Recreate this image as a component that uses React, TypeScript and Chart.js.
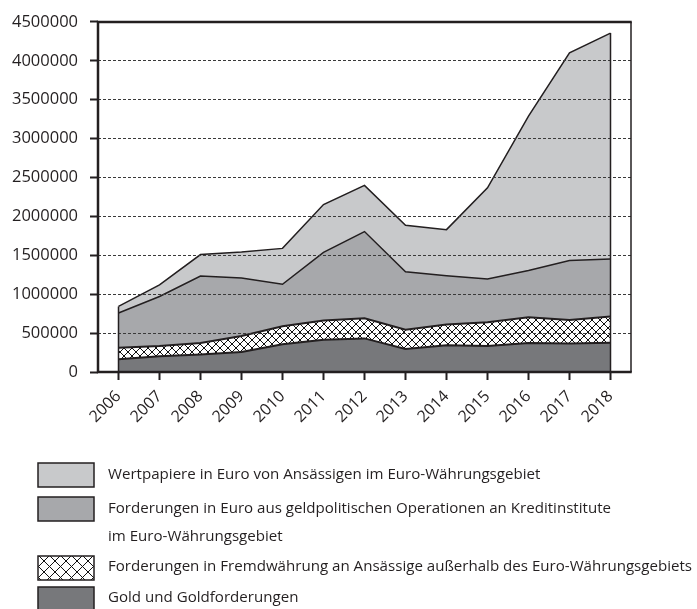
import React, { useEffect, useRef } from "react";
import { Chart, registerables } from "chart.js";

Chart.register(...registerables);

const years = ["2006", "2007", "2008", "2009", "2010", "2011", "2012", "2013", "2014", "2015", "2016", "2017", "2018"];

// Gold und Goldforderungen
const gold = [165000, 203000, 225000, 258000, 356000, 415000, 432000, 296000, 343000, 335000, 373000, 365000, 377000];
// Forderungen in Fremdwährung an Ansässige außerhalb des Euro-Währungsgebiets
const fremdwaehrung = [148000, 132000, 148000, 204000, 233000, 246000, 259000, 246000, 267000, 305000, 331000, 304000, 335000];
// Forderungen in Euro aus geldpolitischen Operationen
const forderungen = [446000, 635000, 860000, 746000, 538000, 877000, 1114000, 746000, 627000, 555000, 601000, 763000, 741000];
// Wertpapiere in Euro
const wertpapiere = [84000, 149000, 276000, 334000, 462000, 614000, 594000, 597000, 593000, 1173000, 1983000, 2670000, 2903000];

const yTicks = [0, 500000, 1000000, 1500000, 2000000, 2500000, 3000000, 3500000, 4000000, 4500000];

const legendLabels = [
  ["Wertpapiere in Euro von Ansässigen im Euro-Währungsgebiet"],
  ["Forderungen in Euro aus geldpolitischen Operationen an Kreditinstitute", "im Euro-Währungsgebiet"],
  ["Forderungen in Fremdwährung an Ansässige außerhalb des Euro-Währungsgebiets"],
  ["Gold und Goldforderungen"],
];

const INK = "#231f20";
const C_LIGHT = "#c8c9cb";
const C_MID = "#a7a8ab";
const C_DARK = "#77787b";
const FONT = "'Open Sans', 'Noto Sans', sans-serif";

function makeHatch(size: number): CanvasPattern | string {
  const c = document.createElement("canvas");
  c.width = size;
  c.height = size;
  const g = c.getContext("2d");
  if (!g) return "#ffffff";
  g.fillStyle = "#ffffff";
  g.fillRect(0, 0, size, size);
  g.strokeStyle = "#111111";
  g.lineWidth = 1;
  g.beginPath();
  g.moveTo(-1, -1);
  g.lineTo(size + 1, size + 1);
  g.moveTo(size + 1, -1);
  g.lineTo(-1, size + 1);
  g.stroke();
  const p = g.createPattern(c, "repeat");
  return p || "#ffffff";
}

export default function App() {
  const ref = useRef<HTMLCanvasElement | null>(null);

  useEffect(() => {
    const canvas = ref.current;
    if (!canvas) return;
    const hatch = makeHatch(8);
    const legendHatch = makeHatch(11);

    const framePlugin = {
      id: "frame",
      afterDraw(chart: any) {
        const { ctx, chartArea } = chart;
        const x = chart.scales.x;
        const y = chart.scales.y;
        ctx.save();
        ctx.strokeStyle = INK;
        const n = years.length;
        const total0 = gold[0] + fremdwaehrung[0] + forderungen[0] + wertpapiere[0];
        const totalN = gold[n - 1] + fremdwaehrung[n - 1] + forderungen[n - 1] + wertpapiere[n - 1];
        ctx.lineWidth = 1.5;
        ctx.beginPath();
        ctx.moveTo(x.getPixelForValue(0), y.getPixelForValue(0));
        ctx.lineTo(x.getPixelForValue(0), y.getPixelForValue(total0));
        ctx.moveTo(x.getPixelForValue(n - 1), y.getPixelForValue(0));
        ctx.lineTo(x.getPixelForValue(n - 1), y.getPixelForValue(totalN));
        ctx.stroke();
        ctx.lineWidth = 1.5;
        ctx.beginPath();
        ctx.moveTo(chartArea.right, chartArea.top);
        ctx.lineTo(chartArea.right, chartArea.bottom);
        ctx.stroke();
        ctx.lineWidth = 2.5;
        ctx.beginPath();
        ctx.moveTo(chartArea.left, chartArea.top);
        ctx.lineTo(chartArea.right + 0.75, chartArea.top);
        ctx.moveTo(chartArea.left, chartArea.top - 1.25);
        ctx.lineTo(chartArea.left, chartArea.bottom + 1.25);
        ctx.moveTo(chartArea.left, chartArea.bottom);
        ctx.lineTo(chartArea.right + 0.75, chartArea.bottom);
        ctx.stroke();
        ctx.restore();
      },
    };

    const legendPlugin = {
      id: "customLegend",
      afterDraw(chart: any) {
        const { ctx } = chart;
        ctx.save();
        const boxX = 38;
        const boxW = 56;
        const boxH = 24;
        const textX = 108;
        const rows = [
          { top: 463, fill: C_LIGHT, lines: legendLabels[0], lineYs: [475] },
          { top: 497, fill: C_MID, lines: legendLabels[1], lineYs: [509, 537] },
          { top: 556, fill: legendHatch, lines: legendLabels[2], lineYs: [567] },
          { top: 587, fill: C_DARK, lines: legendLabels[3], lineYs: [598] },
        ];
        for (const r of rows) {
          ctx.fillStyle = r.fill;
          ctx.fillRect(boxX, r.top, boxW, boxH);
          ctx.strokeStyle = INK;
          ctx.lineWidth = 1.5;
          ctx.strokeRect(boxX, r.top, boxW, boxH);
          ctx.fillStyle = INK;
          ctx.font = `15.1px ${FONT}`;
          ctx.textAlign = "left";
          ctx.textBaseline = "middle";
          r.lines.forEach((t, i) => ctx.fillText(t, textX, r.lineYs[i]));
        }
        ctx.restore();
      },
    };

    const common = { pointRadius: 0, tension: 0, borderColor: INK, borderJoinStyle: "miter" as const };

    const chart = new Chart(canvas, {
      type: "line",
      data: {
        labels: years,
        datasets: [
          { ...common, label: legendLabels[3][0], data: gold, fill: "origin", backgroundColor: C_DARK, borderWidth: 2 },
          { ...common, label: legendLabels[2][0], data: fremdwaehrung, fill: "-1", backgroundColor: hatch as any, borderWidth: 2 },
          { ...common, label: legendLabels[1].join(" "), data: forderungen, fill: "-1", backgroundColor: C_MID, borderWidth: 1.5 },
          { ...common, label: legendLabels[0][0], data: wertpapiere, fill: "-1", backgroundColor: C_LIGHT, borderWidth: 1.5 },
        ],
      },
      options: {
        responsive: false,
        animation: false,
        layout: { padding: { left: 0, top: 18, right: 66, bottom: 0 } },
        plugins: { legend: { display: false }, tooltip: { enabled: false } },
        scales: {
          x: {
            type: "category",
            offset: true,
            grid: { display: true, drawOnChartArea: false, offset: false, tickLength: 8, tickWidth: 2, tickColor: INK },
            border: { display: false },
            ticks: { minRotation: 45, maxRotation: 45, autoSkip: false, font: { family: FONT, size: 16 }, color: INK, padding: 7 },
            afterFit: (s: any) => {
              s.height = 237;
            },
          },
          y: {
            stacked: true,
            min: 0,
            max: 4500000,
            afterBuildTicks: (s: any) => {
              s.ticks = yTicks.map((v) => ({ value: v }));
            },
            grid: { color: "#3a3a3a", lineWidth: 1, tickLength: 8, tickWidth: 2, tickColor: INK, z: 1 } as any,
            border: { display: false, dash: [3, 2] },
            ticks: { font: { family: FONT, size: 16.5 }, color: INK, padding: 12, callback: (v: any) => String(v) },
            afterFit: (s: any) => {
              s.width = 98;
            },
          },
        },
      },
      plugins: [framePlugin, legendPlugin],
    });
    return () => chart.destroy();
  }, []);

  return (
    <div style={{ position: "fixed", left: 0, top: 0, width: 697, height: 609, background: "#ffffff" }}>
      <canvas ref={ref} width={697} height={609} style={{ display: "block", width: 697, height: 609 }} />
    </div>
  );
}
